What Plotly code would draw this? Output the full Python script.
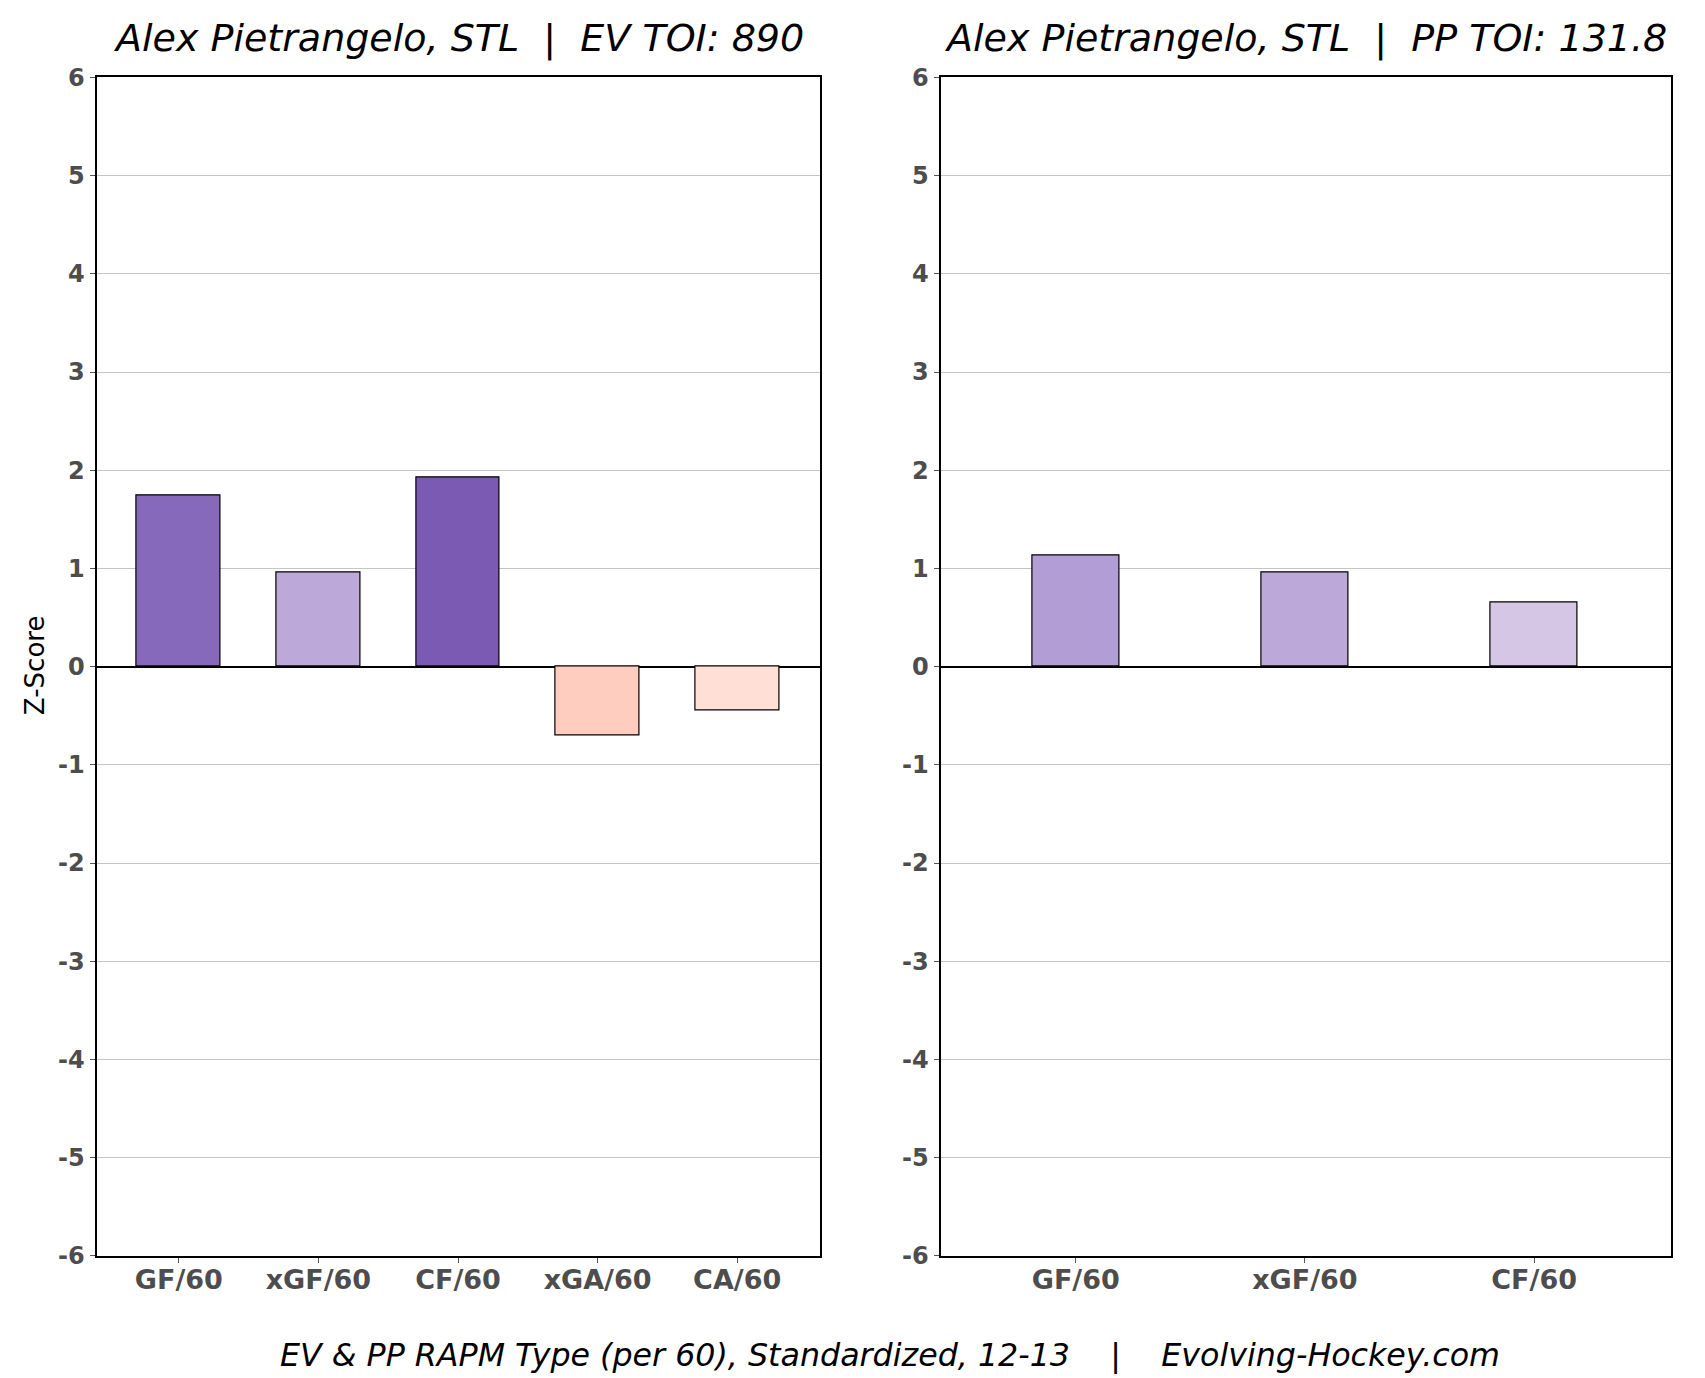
import plotly.graph_objects as go

ev_categories = ["GF/60", "xGF/60", "CF/60", "xGA/60", "CA/60"]
ev_values = [1.74, 0.96, 1.93, -0.70, -0.45]
ev_colors = ["#8669BA", "#BCA8D9", "#7A5AB3", "#FFCCC0", "#FFDFD6"]

pp_categories = ["GF/60", "xGF/60", "CF/60"]
pp_values = [1.13, 0.96, 0.65]
pp_colors = ["#B29ED5", "#BDA9D9", "#D5C6E6"]

y_ticks = [-6, -5, -4, -3, -2, -1, 0, 1, 2, 3, 4, 5, 6]
y_ticktext = ["-6", "-5", "-4", "-3", "-2", "-1", "0", "1", "2", "3", "4", "5", "6"]

NB = "\u00a0"
ev_title = "Alex Pietrangelo, STL" + NB * 2 + "|" + NB * 2 + "EV TOI: 890"
pp_title = "Alex Pietrangelo, STL" + NB * 2 + "|" + NB * 2 + "PP TOI: 131.8"
caption = "EV & PP RAPM Type (per 60), Standardized, 12-13" + NB * 4 + "|" + NB * 4 + "Evolving-Hockey.com"

W, H = 1705, 1378
FONT = "DejaVu Sans"

fig = go.Figure()
fig.add_trace(go.Bar(x=ev_categories, y=ev_values,
                     marker=dict(color=ev_colors, line=dict(color="black", width=1.2)),
                     width=0.6, xaxis="x", yaxis="y", showlegend=False))
fig.add_trace(go.Bar(x=pp_categories, y=pp_values,
                     marker=dict(color=pp_colors, line=dict(color="black", width=1.2)),
                     width=0.38, xaxis="x2", yaxis="y2", showlegend=False))


def px_x(p):
    return p / W


def px_y(p):
    return 1 - p / H


L1, R1 = 88.5, 811.5
L2, R2 = 932.5, 1662.5
T, B = 56.6, 1259.5

common_y = dict(range=[-6, 6], tickvals=y_ticks, ticktext=y_ticktext,
                showgrid=True, gridcolor="#C4C4C4", gridwidth=1,
                zeroline=True, zerolinecolor="black", zerolinewidth=2,
                showline=True, mirror=True, linecolor="black", linewidth=2,
                ticks="outside", ticklen=5, tickcolor="#555555",
                tickfont=dict(family=FONT, size=24, color="#4D4D4D", weight="bold"),
                domain=[px_y(B), px_y(T)])
common_x = dict(showline=True, mirror=True, linecolor="black", linewidth=2, showgrid=False,
                ticks="outside", ticklen=5, tickcolor="#555555", ticklabelstandoff=-6,
                tickfont=dict(family=FONT, size=27, color="#4D4D4D", weight="bold"))

fig.update_layout(
    width=W, height=H, autosize=False,
    margin=dict(l=0, r=0, t=0, b=0),
    paper_bgcolor="white", plot_bgcolor="white",
    font=dict(family=FONT),
    xaxis=dict(**common_x, domain=[px_x(L1), px_x(R1)], range=[-0.59, 4.59], anchor="y"),
    yaxis=dict(**common_y, anchor="x"),
    xaxis2=dict(**common_x, domain=[px_x(L2), px_x(R2)], range=[-0.59, 2.595], anchor="y2"),
    yaxis2=dict(**common_y, anchor="x2"),
    bargap=0,
)

title_font = dict(family=FONT, size=38, color="black", style="italic")
fig.add_annotation(text=ev_title, x=px_x((L1 + R1) / 2), y=px_y(16.5), xref="paper", yref="paper",
                   showarrow=False, font=title_font, xanchor="center", yanchor="middle")
fig.add_annotation(text=pp_title, x=px_x((L2 + R2) / 2), y=px_y(16.5), xref="paper", yref="paper",
                   showarrow=False, font=title_font, xanchor="center", yanchor="middle")
fig.add_annotation(text=caption, x=px_x(881.6), y=px_y(1361), xref="paper", yref="paper",
                   showarrow=False, font=dict(family=FONT, size=31.7, color="black", style="italic"),
                   xanchor="center", yanchor="middle")
fig.add_annotation(text="Z-Score", x=px_x(26.5), y=px_y(657), xref="paper", yref="paper", textangle=-90,
                   showarrow=False, font=dict(family=FONT, size=26, color="black"),
                   xanchor="center", yanchor="middle")

fig.write_html("out.html")
